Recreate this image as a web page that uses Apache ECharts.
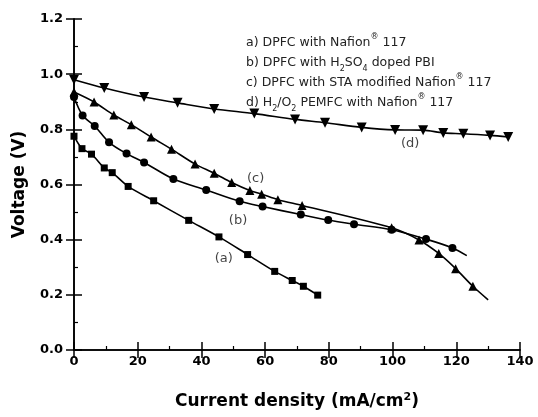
<!DOCTYPE html>
<html><head><meta charset="utf-8">
<script src="https://cdn.jsdelivr.net/npm/echarts@6/dist/echarts.min.js"></script>
<style>html,body{margin:0;padding:0;background:#fff}#c{width:538px;height:417px}</style>
</head><body><div id="c"></div>
<script>
// Series a: DPFC with Nafion 117 (squares)
const aCurrent = [0, 2.5, 5.5, 9.5, 12, 17, 25, 36, 45.5, 54.5, 63, 68.5, 72, 76.5];
const aVoltage = [0.775, 0.73, 0.71, 0.66, 0.643, 0.593, 0.541, 0.47, 0.41, 0.346, 0.285, 0.252, 0.231, 0.199];
// Series b: DPFC with H2SO4 doped PBI (circles)
const bCurrent = [0, 2.7, 6.5, 11, 16.5, 22, 31.2, 41.5, 52, 59.2, 71.2, 79.8, 87.9, 99.7, 110.5, 118.8, 123.3];
const bVoltage = [0.917, 0.85, 0.812, 0.753, 0.712, 0.68, 0.62, 0.58, 0.539, 0.52, 0.491, 0.471, 0.456, 0.436, 0.402, 0.37, 0.342];
// Series c: DPFC with STA modified Nafion 117 (up triangles)
const cCurrent = [0, 6.3, 12.5, 18, 24.2, 30.6, 38, 44, 49.5, 55.2, 58.9, 64, 71.6, 99.7, 108.3, 114.5, 119.8, 125.2, 130];
const cVoltage = [0.935, 0.899, 0.852, 0.817, 0.772, 0.728, 0.674, 0.641, 0.607, 0.578, 0.565, 0.545, 0.524, 0.443, 0.399, 0.35, 0.295, 0.231, 0.182];
// Series d: H2/O2 PEMFC with Nafion 117 (down triangles)
const dCurrent = [0, 9.5, 22, 32.5, 44, 56.6, 69.4, 78.8, 90.3, 100.8, 109.6, 115.9, 122.2, 130.6, 136.3];
const dVoltage = [0.98, 0.95, 0.917, 0.896, 0.874, 0.857, 0.836, 0.824, 0.807, 0.798, 0.797, 0.787, 0.784, 0.778, 0.772];

// Curve tags
const tagNames = ['(a)', '(b)', '(c)', '(d)'];
const tagCurrent = [47, 51.5, 57, 105.5];
const tagVoltage = [0.33, 0.47, 0.62, 0.75];

// Axis ticks
const xMin = 0, xMax = 140, xStep = 20;
const yMin = 0, yMax = 1.2, yStep = 0.2;

// Legend lines (rich text)
const legendLines = [
  'a) DPFC with Nafion{sup|®} 117',
  'b) DPFC with H{sub|2}SO{sub|4} doped PBI',
  'c) DPFC with STA modified Nafion{sup|®} 117',
  'd) H{sub|2}/O{sub|2} PEMFC with Nafion{sup|®} 117'
];

function pairs(xs, ys, noEndSymbol) {
  return xs.map((x, i) => {
    const item = { value: [x, ys[i]] };
    if (noEndSymbol && i === xs.length - 1) item.symbol = 'none';
    return item;
  });
}

const chart = echarts.init(document.getElementById('c'), null, { renderer: 'canvas' });
const lineStyle = { color: '#000', width: 1.6 };
const axisFont = { fontFamily: 'DejaVu Sans', fontWeight: 'bold', fontSize: 13, color: '#000' };
const axLine = { show: true, lineStyle: { color: '#000', width: 1.6 } };
const majTick = { show: true, inside: true, length: 8, lineStyle: { color: '#000', width: 1.5 } };
const minTick = { show: true, splitNumber: 2, length: 4, lineStyle: { color: '#000', width: 1.2 } };

function mkLine(name, xs, ys, symbol, size, rotate, noEnd) {
  return {
    name, type: 'line', smooth: 0.3, data: pairs(xs, ys, noEnd),
    symbol, symbolSize: size, symbolRotate: rotate,
    itemStyle: { color: '#000' }, lineStyle, showSymbol: true, animation: false, z: 3
  };
}

const option = {
  backgroundColor: '#fff',
  animation: false,
  grid: { left: 74, right: 18, top: 19, bottom: 54 },
  xAxis: [{
    type: 'value', min: xMin, max: xMax, interval: xStep, position: 'bottom',
    axisLine: axLine, axisTick: majTick, minorTick: minTick,
    axisLabel: Object.assign({ margin: 5 }, axisFont),
    splitLine: { show: false },
    name: 'Current density (mA/cm{sup|2})', nameLocation: 'middle', nameGap: 42,
    nameTextStyle: {
      fontFamily: 'DejaVu Sans', fontWeight: 'bold', fontSize: 17, color: '#000', lineHeight: 20,
      rich: { sup: { fontFamily: 'DejaVu Sans', fontWeight: 'bold', fontSize: 11, color: '#000', verticalAlign: 'top', lineHeight: 20, padding: [0, 0, 9, 0] } }
    }
  }, {
    type: 'value', min: xMin, max: xMax, interval: xStep, position: 'top',
    axisLine: axLine, axisTick: majTick,
    axisLabel: { show: false }, splitLine: { show: false }
  }],
  yAxis: [{
    type: 'value', min: yMin, max: yMax, interval: yStep, position: 'left',
    axisLine: axLine, axisTick: majTick, minorTick: minTick,
    axisLabel: Object.assign({ margin: 11, formatter: v => v.toFixed(1) }, axisFont),
    splitLine: { show: false },
    name: 'Voltage (V)', nameLocation: 'middle', nameGap: 46, nameRotate: 90,
    nameTextStyle: { fontFamily: 'DejaVu Sans', fontWeight: 'bold', fontSize: 17, color: '#000' }
  }, {
    type: 'value', min: yMin, max: yMax, interval: yStep, position: 'right',
    axisLine: axLine, axisTick: majTick,
    axisLabel: { show: false }, splitLine: { show: false }
  }],
  series: [
    mkLine('a', aCurrent, aVoltage, 'rect', 7, 0, false),
    mkLine('b', bCurrent, bVoltage, 'circle', 8, 0, true),
    mkLine('c', cCurrent, cVoltage, 'triangle', 9, 0, true),
    mkLine('d', dCurrent, dVoltage, 'triangle', 10, 180, false),
    {
      type: 'scatter', symbolSize: 0, silent: true, z: 4,
      data: tagNames.map((n, i) => ({ value: [tagCurrent[i], tagVoltage[i]], name: n })),
      label: { show: true, position: 'inside', formatter: p => p.name, fontFamily: 'DejaVu Sans', fontSize: 13, color: '#111' }
    }
  ],
  graphic: [{
    type: 'text', left: 246, top: 33, z: 10,
    style: {
      text: legendLines.join('\n'),
      fontFamily: 'DejaVu Sans', fontSize: 12.5, fill: '#222', lineHeight: 20,
      rich: {
        sup: { fontFamily: 'DejaVu Sans', fontSize: 8, fill: '#222', verticalAlign: 'top', lineHeight: 14 },
        sub: { fontFamily: 'DejaVu Sans', fontSize: 8, fill: '#222', verticalAlign: 'bottom', lineHeight: 10 }
      }
    }
  }]
};
chart.setOption(option);
</script></body></html>
